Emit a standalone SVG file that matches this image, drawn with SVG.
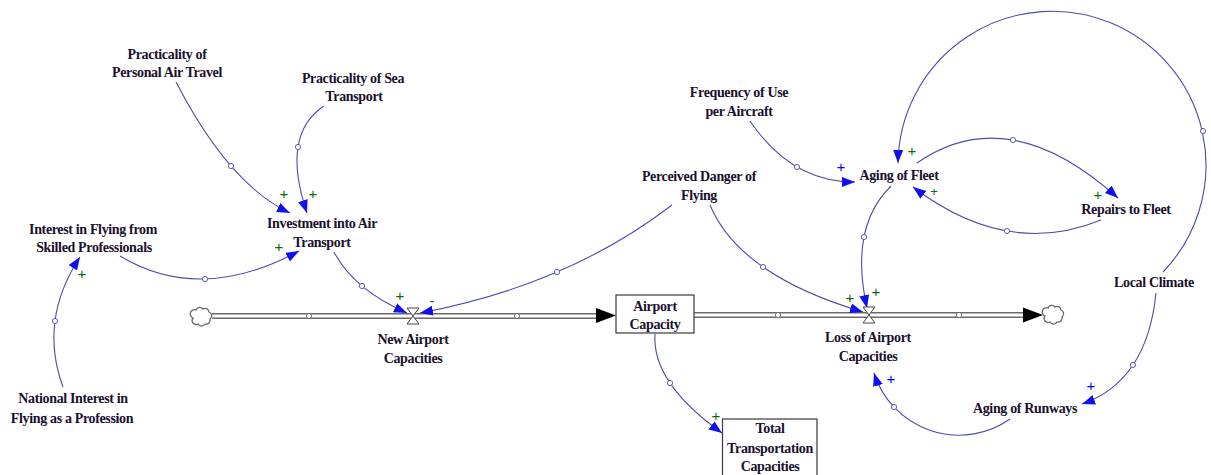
<svg xmlns="http://www.w3.org/2000/svg" width="1211" height="475" viewBox="0 0 1211 475">
<style>
.lbl{font-family:"Liberation Serif","Times New Roman",serif;font-size:14px;font-weight:bold;letter-spacing:-0.35px;fill:#1a0f2e;text-anchor:middle}
.cn{fill:none;stroke:#4b4bb4;stroke-width:1.1;marker-end:url(#ah)}
.hd{fill:#fff;stroke:#4b4bb4;stroke-width:0.9}
.pg{font-family:"Liberation Sans",Arial,sans-serif;font-size:15px;fill:#0a6a0a;text-anchor:middle}
.pb{font-family:"Liberation Sans",Arial,sans-serif;font-size:15px;fill:#0000ff;text-anchor:middle}
.po{fill:none;stroke:#6a6a6a;stroke-width:6}
.pi{fill:none;stroke:#fff;stroke-width:3}
.pc{fill:#fff;stroke:#666;stroke-width:0.9}
.vl{fill:#fff;stroke:#444;stroke-width:1}
.cl{fill:#fff;stroke:#666;stroke-width:1.3}
.bx{fill:#fff;stroke:#3a3a3a;stroke-width:1.2}
</style>
<defs>
<marker id="ah" markerUnits="userSpaceOnUse" markerWidth="16" markerHeight="12" refX="13" refY="5" orient="auto">
<path d="M0,0 L13,5 L0,10 Z" fill="#1010ee"/>
</marker>
<path id="cloud" d="M-6,-7 a4,4 0 0 1 7,-1 a4,4 0 0 1 6,3 a4,4 0 0 1 1,7 a4,4 0 0 1 -5,5 a4,4 0 0 1 -7,0 a4,4 0 0 1 -5,-6 a4,4 0 0 1 3,-8 z"/>
<path id="valve" d="M-6,-8 L6,-8 L-6,8 L6,8 Z"/>
</defs>

<g id="flows">
<line class="po" x1="212" y1="316" x2="597" y2="316"/>
<line class="pi" x1="212" y1="316" x2="600" y2="316"/>
<path d="M596,308 L616,315.5 L596,323 Z" fill="#000"/>
<line class="po" x1="694" y1="315" x2="1024" y2="315"/>
<line class="pi" x1="694" y1="315" x2="1024" y2="315"/>
<path d="M1023,307.5 L1043,315 L1023,322.5 Z" fill="#000"/>
<use href="#cloud" class="cl" x="202" y="317"/>
<use href="#cloud" class="cl" x="1054" y="315"/>
<circle class="pc" cx="309" cy="316" r="2.6"/>
<circle class="pc" cx="517" cy="316" r="2.6"/>
<circle class="pc" cx="778" cy="315" r="2.6"/>
<circle class="pc" cx="959" cy="315" r="2.6"/>
</g>

<g id="connectors">
<path class="cn" d="M176,82 Q229,184.5 290,213"/>
<path class="cn" d="M324,106 Q280.5,134.5 307,213"/>
<path class="cn" d="M120,256 Q200.5,304.5 299,251"/>
<path class="cn" d="M63,387 Q38.5,320 80,257"/>
<path class="cn" d="M334,252 Q353.5,289.5 407,313"/>
<path class="cn" d="M672,205 Q568,285 420,313"/>
<path class="cn" d="M710,205 Q739.5,275.5 863,312"/>
<path class="cn" d="M891,186 Q849,227 867,308"/>
<path class="cn" d="M750,121 Q791.5,182.5 855,182"/>
<path class="cn" d="M1163,272 A154,154 0 1 0 898,163"/>
<path class="cn" d="M917,163 Q1008.5,99.5 1118,198"/>
<path class="cn" d="M1101,220 Q1007,258.5 913,187"/>
<path class="cn" d="M1156,293 Q1147,381.5 1082,404"/>
<path class="cn" d="M1010,419 A89,89 0 0 1 874,373"/>
<path class="cn" d="M655,334 Q651.5,382.5 722,433"/>
<circle class="hd" cx="231" cy="166" r="2.6"/>
<circle class="hd" cx="298" cy="147" r="2.6"/>
<circle class="hd" cx="205" cy="279" r="2.6"/>
<circle class="hd" cx="55" cy="321" r="2.6"/>
<circle class="hd" cx="362" cy="286" r="2.6"/>
<circle class="hd" cx="557" cy="272" r="2.6"/>
<circle class="hd" cx="763" cy="267" r="2.6"/>
<circle class="hd" cx="864" cy="237" r="2.6"/>
<circle class="hd" cx="797" cy="167" r="2.6"/>
<circle class="hd" cx="1203" cy="131" r="2.6"/>
<circle class="hd" cx="1013" cy="140" r="2.6"/>
<circle class="hd" cx="1007" cy="231" r="2.6"/>
<circle class="hd" cx="1133" cy="365" r="2.6"/>
<circle class="hd" cx="894" cy="407" r="2.6"/>
<circle class="hd" cx="670" cy="383" r="2.6"/>
<text class="pg" x="284" y="199">+</text>
<text class="pg" x="313" y="199">+</text>
<text class="pg" x="279" y="252">+</text>
<text class="pg" x="82" y="279">+</text>
<text class="pg" x="400" y="301">+</text>
<text class="pg" x="432" y="306">-</text>
<text class="pg" x="850" y="303">+</text>
<text class="pg" x="876" y="297">+</text>
<text class="pg" x="912" y="156">+</text>
<text class="pg" x="934" y="196" style="font-size:13px">+</text>
<text class="pg" x="1098" y="200">+</text>
<text class="pg" x="716" y="421">+</text>
<text class="pb" x="841" y="172">+</text>
<text class="pb" x="1091" y="391">+</text>
<text class="pb" x="891" y="384">+</text>
</g>

<g id="new_airport_capacities">
<use href="#valve" class="vl" x="413" y="316"/>
<text class="lbl" x="413" y="344">New Airport</text>
<text class="lbl" x="413" y="363">Capacities</text>
</g>
<g id="loss_of_airport_capacities">
<use href="#valve" class="vl" x="869" y="315"/>
<text class="lbl" x="868" y="342">Loss of Airport</text>
<text class="lbl" x="868" y="361">Capacities</text>
</g>
<g id="airport_capacity">
<rect class="bx" x="616" y="295" width="78" height="38"/>
<text class="lbl" x="655" y="311">Airport</text>
<text class="lbl" x="655" y="329">Capacity</text>
</g>
<g id="total_transportation_capacities">
<rect class="bx" x="722.5" y="419" width="94.5" height="62"/>
<text class="lbl" x="770" y="433">Total</text>
<text class="lbl" x="770" y="453">Transportation</text>
<text class="lbl" x="770" y="471">Capacities</text>
</g>
<g id="practicality_personal_air_travel">
<text class="lbl" x="167" y="59">Practicality of</text>
<text class="lbl" x="167" y="77">Personal Air Travel</text>
</g>
<g id="practicality_sea_transport">
<text class="lbl" x="353" y="83">Practicality of Sea</text>
<text class="lbl" x="354" y="101">Transport</text>
</g>
<g id="interest_skilled_professionals">
<text class="lbl" x="93" y="234">Interest in Flying from</text>
<text class="lbl" x="94" y="252">Skilled Professionals</text>
</g>
<g id="investment_air_transport">
<text class="lbl" x="322" y="228">Investment into Air</text>
<text class="lbl" x="322" y="247">Transport</text>
</g>
<g id="national_interest">
<text class="lbl" x="73" y="403">National Interest in</text>
<text class="lbl" x="72" y="423">Flying as a Profession</text>
</g>
<g id="perceived_danger">
<text class="lbl" x="699" y="181">Perceived Danger of</text>
<text class="lbl" x="699" y="200">Flying</text>
</g>
<g id="frequency_of_use">
<text class="lbl" x="739" y="97">Frequency of Use</text>
<text class="lbl" x="739" y="116">per Aircraft</text>
</g>
<g id="aging_of_fleet">
<text class="lbl" x="899" y="180">Aging of Fleet</text>
</g>
<g id="repairs_to_fleet">
<text class="lbl" x="1126" y="214">Repairs to Fleet</text>
</g>
<g id="local_climate">
<text class="lbl" x="1154" y="287">Local Climate</text>
</g>
<g id="aging_of_runways">
<text class="lbl" x="1025" y="413">Aging of Runways</text>
</g>
</svg>
